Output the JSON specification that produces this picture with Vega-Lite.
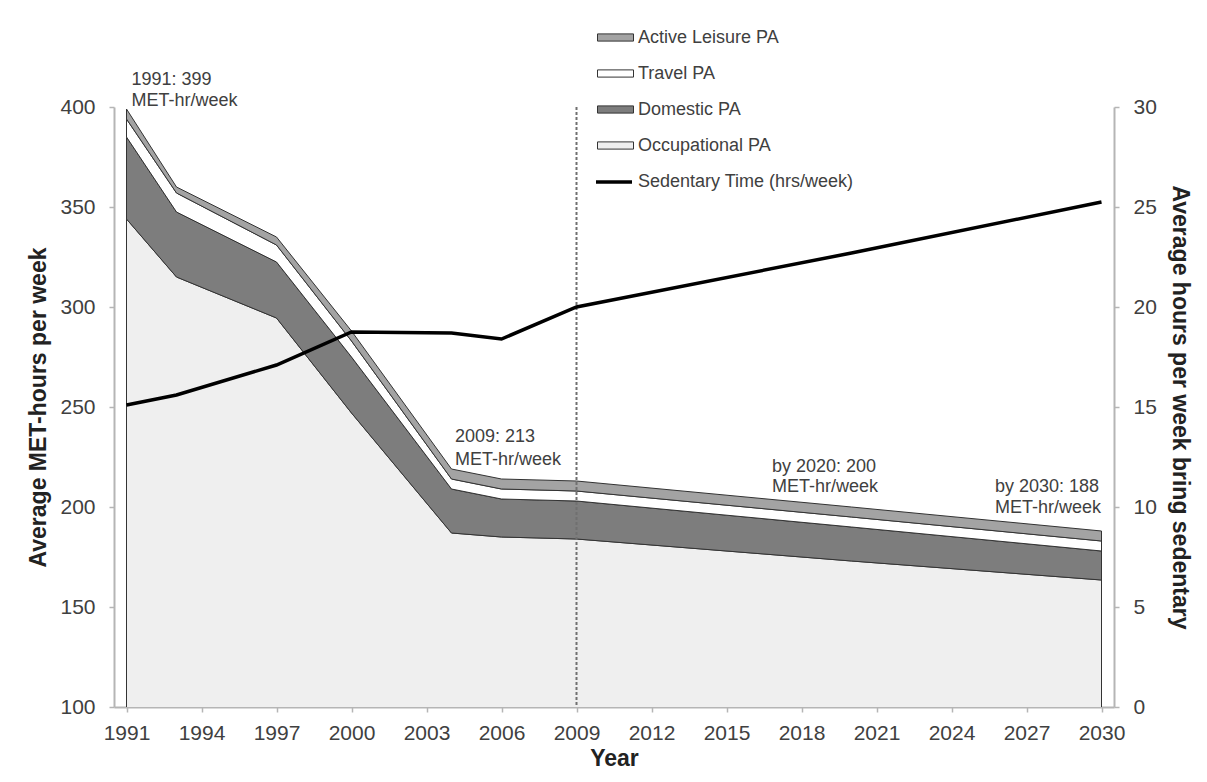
{
  "$schema": "https://vega.github.io/schema/vega-lite/v6.json",
  "autosize": {"type": "none"},
  "width": 1000,
  "height": 600,
  "padding": {"left": 114, "top": 107, "right": 93, "bottom": 75},
  "background": "white",
  "config": {"font": "Liberation Sans", "view": {"stroke": null}},
  "datasets": {
    "pa": [
      {"year": 1991, "series": "Occupational PA", "met": 344},
      {"year": 1991, "series": "Domestic PA", "met": 41},
      {"year": 1991, "series": "Travel PA", "met": 9},
      {"year": 1991, "series": "Active Leisure PA", "met": 5},
      {"year": 1993, "series": "Occupational PA", "met": 315},
      {"year": 1993, "series": "Domestic PA", "met": 32.5},
      {"year": 1993, "series": "Travel PA", "met": 9.5},
      {"year": 1993, "series": "Active Leisure PA", "met": 3},
      {"year": 1997, "series": "Occupational PA", "met": 294.5},
      {"year": 1997, "series": "Domestic PA", "met": 28},
      {"year": 1997, "series": "Travel PA", "met": 8.5},
      {"year": 1997, "series": "Active Leisure PA", "met": 4},
      {"year": 2000, "series": "Occupational PA", "met": 247},
      {"year": 2000, "series": "Domestic PA", "met": 28},
      {"year": 2000, "series": "Travel PA", "met": 8},
      {"year": 2000, "series": "Active Leisure PA", "met": 5},
      {"year": 2004, "series": "Occupational PA", "met": 187},
      {"year": 2004, "series": "Domestic PA", "met": 22},
      {"year": 2004, "series": "Travel PA", "met": 5},
      {"year": 2004, "series": "Active Leisure PA", "met": 5},
      {"year": 2006, "series": "Occupational PA", "met": 185},
      {"year": 2006, "series": "Domestic PA", "met": 19},
      {"year": 2006, "series": "Travel PA", "met": 5},
      {"year": 2006, "series": "Active Leisure PA", "met": 5},
      {"year": 2009, "series": "Occupational PA", "met": 184},
      {"year": 2009, "series": "Domestic PA", "met": 19},
      {"year": 2009, "series": "Travel PA", "met": 5},
      {"year": 2009, "series": "Active Leisure PA", "met": 5},
      {"year": 2020, "series": "Occupational PA", "met": 173},
      {"year": 2020, "series": "Domestic PA", "met": 17},
      {"year": 2020, "series": "Travel PA", "met": 5},
      {"year": 2020, "series": "Active Leisure PA", "met": 5},
      {"year": 2030, "series": "Occupational PA", "met": 163.5},
      {"year": 2030, "series": "Domestic PA", "met": 14.5},
      {"year": 2030, "series": "Travel PA", "met": 5},
      {"year": 2030, "series": "Active Leisure PA", "met": 5}
    ],
    "sed": [
      {"year": 1991, "hours": 15.1},
      {"year": 1993, "hours": 15.6},
      {"year": 1997, "hours": 17.1},
      {"year": 2000, "hours": 18.75},
      {"year": 2004, "hours": 18.7},
      {"year": 2006, "hours": 18.4},
      {"year": 2009, "hours": 20.0},
      {"year": 2020, "hours": 22.7},
      {"year": 2030, "hours": 25.25}
    ],
    "notes": [
      {"year": 1991.2, "met": 413.5, "label": "1991: 399"},
      {"year": 1991.2, "met": 403, "label": "MET-hr/week"},
      {"year": 2004.14, "met": 235, "label": "2009: 213"},
      {"year": 2004.14, "met": 223.5, "label": "MET-hr/week"},
      {"year": 2016.82, "met": 220, "label": "by 2020: 200"},
      {"year": 2016.82, "met": 210, "label": "MET-hr/week"},
      {"year": 2025.74, "met": 210, "label": "by 2030: 188"},
      {"year": 2025.74, "met": 199.5, "label": "MET-hr/week"}
    ]
  },
  "layer": [
    {
      "data": {"name": "pa"},
      "transform": [
        {"calculate": "indexof(['Occupational PA','Domestic PA','Travel PA','Active Leisure PA'], datum.series)", "as": "rank"}
      ],
      "mark": {"type": "area", "clip": true, "stroke": "#333333", "strokeWidth": 1, "opacity": 1},
      "encoding": {
        "x": {
          "field": "year", "type": "quantitative",
          "scale": {"domain": [1990.5, 2030.5], "nice": false, "zero": false},
          "axis": {
            "title": "Year", "values": [1991, 1994, 1997, 2000, 2003, 2006, 2009, 2012, 2015, 2018, 2021, 2024, 2027, 2030],
            "format": "d", "labelFontSize": 21, "labelColor": "#404040", "labelFlush": false,
            "titleFontSize": 23, "titleFontWeight": "bold", "titleColor": "#222222", "titlePadding": 4,
            "domainColor": "#b5b5b5", "domainWidth": 2, "tickColor": "#b5b5b5", "tickSize": 5, "tickWidth": 1.5,
            "labelPadding": 10, "grid": false
          }
        },
        "y": {
          "field": "met", "type": "quantitative", "stack": "zero",
          "scale": {"domain": [100, 400], "nice": false, "zero": false},
          "axis": {
            "title": "Average MET-hours per week", "values": [100, 150, 200, 250, 300, 350, 400],
            "labelFontSize": 21, "labelColor": "#404040",
            "titleFontSize": 23, "titleFontWeight": "bold", "titleColor": "#222222", "titlePadding": 9,
            "domainColor": "#b5b5b5", "domainWidth": 2, "tickColor": "#b5b5b5", "tickSize": 5, "tickWidth": 1.5,
            "labelPadding": 14, "grid": false
          }
        },
        "fill": {
          "field": "series", "type": "nominal",
          "scale": {
            "domain": ["Active Leisure PA", "Travel PA", "Domestic PA", "Occupational PA"],
            "range": ["#a3a3a3", "#ffffff", "#7d7d7d", "#efefef"]
          },
          "legend": {
            "title": null, "orient": "none", "legendX": 483, "legendY": -88, "padding": 0,
            "symbolType": "M-1,-0.2H1V0.2H-1Z", "symbolSize": 1296, "rowPadding": 8, "labelOffset": 4,
            "symbolStrokeWidth": 1, "symbolOpacity": 1,
            "labelFontSize": 18, "labelColor": "#404040", "labelLimit": 400
          }
        },
        "order": {"field": "rank", "type": "quantitative"}
      }
    },
    {
      "data": {"values": [{"year": 2009}]},
      "mark": {"type": "rule", "color": "#707070", "strokeWidth": 2, "strokeDash": [3, 2]},
      "encoding": {
        "x": {"field": "year", "type": "quantitative"}
      }
    },
    {
      "data": {"name": "sed"},
      "mark": {"type": "line", "strokeWidth": 3.5, "interpolate": "linear"},
      "encoding": {
        "x": {"field": "year", "type": "quantitative"},
        "y": {
          "field": "hours", "type": "quantitative",
          "scale": {"domain": [0, 30], "nice": false, "zero": false},
          "axis": {
            "orient": "right", "title": "Average hours per week bring sedentary", "values": [0, 5, 10, 15, 20, 25, 30],
            "labelFontSize": 21, "labelColor": "#404040",
            "titleFontSize": 23, "titleFontWeight": "bold", "titleColor": "#222222", "titlePadding": 11,
            "domainColor": "#b5b5b5", "domainWidth": 2, "tickColor": "#b5b5b5", "tickSize": 5, "tickWidth": 1.5,
            "labelPadding": 14, "grid": false
          }
        },
        "stroke": {
          "datum": "Sedentary Time (hrs/week)", "type": "nominal",
          "scale": {"domain": ["Sedentary Time (hrs/week)"], "range": ["#000000"]},
          "legend": {
            "title": null, "orient": "none", "legendX": 480, "legendY": 55, "padding": 0,
            "symbolType": "stroke", "symbolSize": 1296, "symbolStrokeWidth": 3.5, "labelOffset": 4,
            "labelFontSize": 18, "labelColor": "#404040", "labelLimit": 400
          }
        }
      }
    },
    {
      "data": {"name": "notes"},
      "mark": {"type": "text", "align": "left", "baseline": "middle", "fontSize": 18, "color": "#404040"},
      "encoding": {
        "x": {"field": "year", "type": "quantitative"},
        "y": {"field": "met", "type": "quantitative", "scale": {"domain": [100, 400], "nice": false, "zero": false}, "axis": null},
        "text": {"field": "label"}
      }
    }
  ],
  "resolve": {"scale": {"y": "independent"}}
}
